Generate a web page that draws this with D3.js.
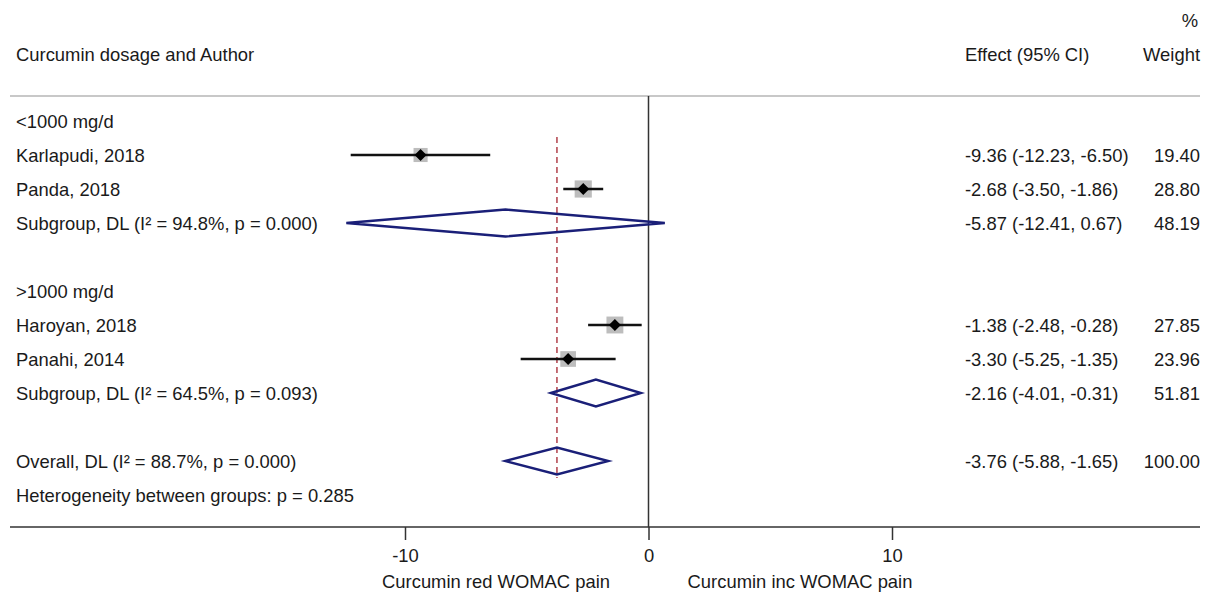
<!DOCTYPE html>
<html>
<head>
<meta charset="utf-8">
<script src="https://cdn.jsdelivr.net/npm/d3@7"></script>
<style>
  body { margin: 0; background: #fff; }
  text { font-family: "Liberation Sans", Arial, Helvetica, sans-serif; font-size: 18.4px; fill: #1a1a1a; }
</style>
</head>
<body>
<svg id="chart" width="1211" height="594"></svg>
<script>
// row labels, top to bottom ("" = blank row)
var labels = ["<1000 mg/d", "Karlapudi, 2018", "Panda, 2018", "Subgroup, DL (I\u00B2 = 94.8%, p = 0.000)", "",
              ">1000 mg/d", "Haroyan, 2018", "Panahi, 2014", "Subgroup, DL (I\u00B2 = 64.5%, p = 0.093)", "",
              "Overall, DL (I\u00B2 = 88.7%, p = 0.000)", "Heterogeneity between groups: p = 0.285"]
// kind of each row: h = heading, s = study, d = pooled diamond, t = text only
var kinds = ["h","s","s","d","","h","s","s","d","","d","t"]
var est   = [null, -9.36, -2.68, -5.87, null, null, -1.38, -3.30, -2.16, null, -3.76, null]
var lower = [null, -12.23, -3.50, -12.41, null, null, -2.48, -5.25, -4.01, null, -5.88, null]
var upper = [null, -6.50, -1.86, 0.67, null, null, -0.28, -1.35, -0.31, null, -1.65, null]
var weights = [null, 19.40, 28.80, 48.19, null, null, 27.85, 23.96, 51.81, null, 100.00, null]
var ticks = [-10, 0, 10]
var overall = -3.76

var svg = d3.select("#chart")

var x = d3.scaleLinear().domain([-10, 10]).range([405, 892])
var y = d3.scaleLinear().domain([0, 11]).range([122, 496])

// header
svg.append("text").attr("x", 16).attr("y", 55).attr("dy", "0.35em").text("Curcumin dosage and Author")
svg.append("text").attr("x", 965).attr("y", 55).attr("dy", "0.35em").text("Effect (95% CI)")
svg.append("text").attr("x", 1200).attr("y", 55).attr("dy", "0.35em").attr("text-anchor", "end").text("Weight")
svg.append("text").attr("x", 1198).attr("y", 21).attr("dy", "0.35em").attr("text-anchor", "end").text("%")

// top separator
svg.append("line")
  .attr("x1", 10).attr("x2", 1200).attr("y1", 96).attr("y2", 96)
  .attr("stroke", "#c8c8c8").attr("stroke-width", 2)

// zero line
svg.append("line")
  .attr("x1", x(0)).attr("x2", x(0)).attr("y1", 96).attr("y2", 527)
  .attr("stroke", "#333").attr("stroke-width", 1.5)

// overall effect dashed line
svg.append("line")
  .attr("x1", x(overall)).attr("x2", x(overall)).attr("y1", 137).attr("y2", 478)
  .attr("stroke", "#b0404a").attr("stroke-width", 1.5).attr("stroke-dasharray", "6,4")

// rows
var rows = svg.selectAll(".row")
  .data(labels)
  .enter()
  .append("g")
  .attr("class", "row")
  .attr("transform", function(d, i) { return "translate(0," + y(i) + ")"; })

rows.append("text")
  .attr("x", 16).attr("dy", "0.35em")
  .text(function(d) { return d; })

rows.filter(function(d, i) { return est[i] !== null; })
  .append("text")
  .attr("x", 965).attr("dy", "0.35em")
  .text(function(d, i) {
    var k = labels.indexOf(d)
    return est[k].toFixed(2) + " (" + lower[k].toFixed(2) + ", " + upper[k].toFixed(2) + ")"
  })

rows.filter(function(d, i) { return weights[i] !== null; })
  .append("text")
  .attr("x", 1200).attr("dy", "0.35em").attr("text-anchor", "end")
  .text(function(d) { return weights[labels.indexOf(d)].toFixed(2); })

// study markers
kinds.forEach(function(k, i) {
  var cy = y(i) - 1
  if (k === "s") {
    var side = 3.2 * Math.sqrt(weights[i])
    svg.append("rect")
      .attr("x", x(est[i]) - side / 2).attr("y", cy - side / 2)
      .attr("width", side).attr("height", side)
      .attr("fill", "#bdbdbd")
    svg.append("line")
      .attr("x1", x(lower[i])).attr("x2", x(upper[i])).attr("y1", cy).attr("y2", cy)
      .attr("stroke", "#111").attr("stroke-width", 2.5)
    var r = 6
    svg.append("path")
      .attr("d", "M" + (x(est[i]) - r) + "," + cy + "L" + x(est[i]) + "," + (cy - r) +
                 "L" + (x(est[i]) + r) + "," + cy + "L" + x(est[i]) + "," + (cy + r) + "Z")
      .attr("fill", "#000")
  }
  if (k === "d") {
    var h = 13.5
    svg.append("path")
      .attr("d", "M" + x(lower[i]) + "," + cy + "L" + x(est[i]) + "," + (cy - h) +
                 "L" + x(upper[i]) + "," + cy + "L" + x(est[i]) + "," + (cy + h) + "Z")
      .attr("fill", "none").attr("stroke", "#1a1f78").attr("stroke-width", 2.4)
  }
})

// bottom axis
svg.append("line")
  .attr("x1", 10).attr("x2", 1200).attr("y1", 527).attr("y2", 527)
  .attr("stroke", "#333").attr("stroke-width", 1.5)

var axis = svg.append("g").attr("transform", "translate(0,527)")
  .call(d3.axisBottom(x).tickValues(ticks).tickSize(13).tickPadding(9)
    .tickFormat(function(d) { return String(d); }))
axis.select(".domain").remove()
axis.selectAll("line").attr("stroke", "#333").attr("stroke-width", 1.5)
axis.selectAll("text").attr("font-size", null).attr("font-family", null).attr("fill", "#1a1a1a")

svg.append("text").attr("x", 496).attr("y", 582).attr("dy", "0.35em").attr("text-anchor", "middle").text("Curcumin red WOMAC pain")
svg.append("text").attr("x", 800).attr("y", 582).attr("dy", "0.35em").attr("text-anchor", "middle").text("Curcumin inc WOMAC pain")
</script>
</body>
</html>
